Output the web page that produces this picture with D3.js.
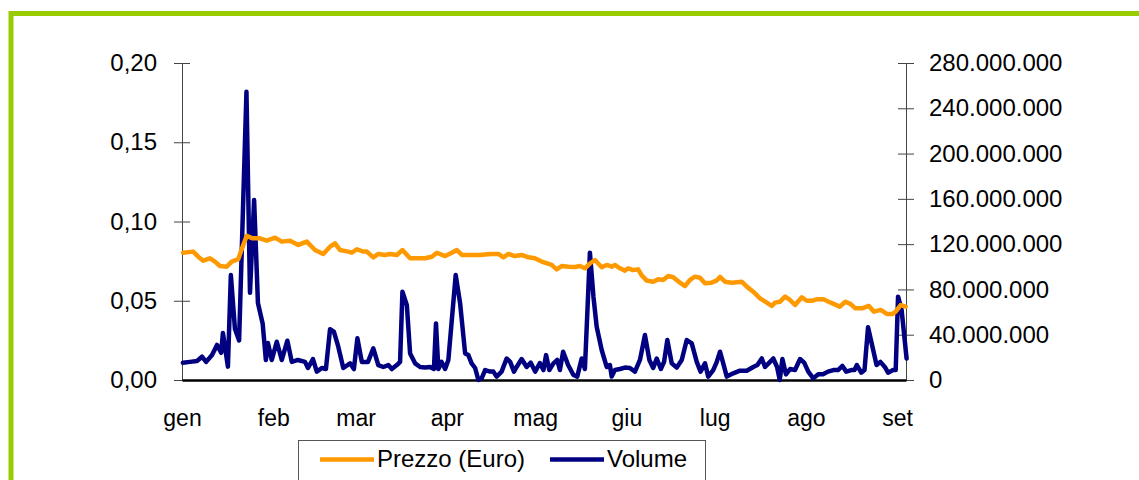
<!DOCTYPE html>
<html><head><meta charset="utf-8">
<script src="https://cdn.jsdelivr.net/npm/d3@7"></script>
<style>body{margin:0;background:#fff;}svg{display:block;font-family:"Liberation Sans",Arial,sans-serif;}</style>
</head><body><svg id="c" width="1139" height="480"></svg>
<script>
// ---- data ----
const monthLabels = ["gen","feb","mar","apr","mag","giu","lug","ago","set"];
const priceTicks = [0, 0.05, 0.10, 0.15, 0.20];
const volumeTicks = [0, 40e6, 80e6, 120e6, 160e6, 200e6, 240e6, 280e6];
// day offset from 1 January
const priceDay = [0.4,3.8,5.5,7.2,9.5,11.2,12.9,15.2,16.9,19.1,20.8,22,24,26.5,28.8,31.6,33.9,36.7,39.5,42.4,45.2,48,50.3,52,53.7,56.5,57.7,59.4,61.6,62.8,65,66.7,69,70.7,73,74.9,77.5,79.8,82.6,84.9,86.6,89.4,91.7,93.4,95.1,97.9,101.3,104.7,107.5,109.2,110.9,113.1,115.4,117.7,119.9,122.2,123.3,125.6,127.3,129,131.3,133.6,135.2,136.9,138.6,140.3,142.6,144.3,146,147.1,148.8,150.5,151.6,153.3,155,156.1,157.9,160.1,161.8,163.5,165.2,166.9,169.2,170.9,172.6,174.3,176,177.7,179.9,181.6,182.8,184.5,186.8,190.2,191.9,194.1,196.4,198.7,200.4,201.5,203.2,204.9,206.6,208.3,210.6,212.3,214,215.7,218,219.7,221.4,223.5,225.4,227.1,228.8,231.1,233.4,235.1,237.4,239.6,241.3,242.5,244.2,245.9];
const priceEur = [0.0803,0.081,0.0778,0.0753,0.0768,0.0747,0.0719,0.0715,0.0747,0.0762,0.0852,0.0909,0.0894,0.0894,0.0879,0.0898,0.0873,0.0879,0.0852,0.0873,0.082,0.0795,0.0841,0.0862,0.082,0.081,0.0803,0.0825,0.081,0.081,0.0774,0.0795,0.0789,0.0795,0.0789,0.082,0.0768,0.0768,0.0768,0.0778,0.0803,0.0782,0.0803,0.082,0.0789,0.0789,0.0789,0.0795,0.0795,0.0774,0.0795,0.0782,0.0789,0.0774,0.0768,0.0747,0.074,0.0726,0.0698,0.0719,0.0715,0.0713,0.0719,0.0705,0.0735,0.0757,0.0711,0.0726,0.0715,0.0726,0.0705,0.069,0.0705,0.0694,0.0698,0.0663,0.0627,0.062,0.0635,0.0631,0.0656,0.0648,0.0614,0.0593,0.0631,0.0652,0.0645,0.061,0.0614,0.0627,0.065,0.062,0.0614,0.062,0.0589,0.0557,0.0515,0.0488,0.0467,0.0488,0.0494,0.0526,0.0505,0.0473,0.0522,0.05,0.05,0.0509,0.0509,0.0494,0.048,0.0463,0.0494,0.048,0.0452,0.0452,0.0467,0.0431,0.0442,0.0416,0.0416,0.0431,0.0473,0.0463];
const volumeDay = [0.3,2.7,5.1,6.8,8.2,10.2,11.9,13.3,13.9,15.6,16.6,18,19.4,21.9,23.1,24.5,25.8,27.4,28.5,29.2,30.5,32.2,33.9,35.8,37.3,39.4,41.8,42.8,44.5,45.8,47.5,48.9,50.3,51.6,53.1,54.8,57.1,58.4,59.6,61.1,63.2,65,66.7,68.4,70.1,71.3,73,74.1,74.9,76.4,77.5,79.2,80.9,82.6,84.3,85.6,86.3,87.1,88.2,89.4,90.5,93,94.5,96.2,97.3,98.4,99.6,100.7,101.8,103,104.7,105.8,106.9,108.6,110.3,111.5,112.8,113.7,115.4,117.1,118.5,120,121.6,122.8,123.7,124.8,126.2,127.5,128.4,129.5,131.2,133,134.3,135.8,136.9,138.6,139.8,140.9,142.6,144.3,145.4,146,147.1,148.8,150.5,152.2,153.9,155.6,157.3,158.8,160.1,161.3,162.7,163.8,164.9,166.4,168.1,169.8,171.5,173.2,174.9,176.2,177.7,178.8,180.5,181.7,182.8,183.9,185.1,187.3,189.6,191.9,194.1,195.5,197,198.1,199.8,200.9,202.2,203.1,204,205.2,206.6,208.3,210,211.4,212.8,214.5,216.2,217.8,219.5,221.3,222.9,224.4,225.7,227.4,228.5,229.3,230.8,231.9,233.1,234.6,236,237.3,238.8,239.9,241.6,242.5,243.3,244.5,246.2];
const volumeMln = [15.3,16,16.8,20.6,16,22,31,24,41.5,11.8,92.7,45,35,254.6,77,159,68,50,17.7,32.7,17.7,33.8,17.7,34.7,16,17.7,16,10.6,18.5,7.4,10.6,9.7,44.8,42.7,29.4,10.6,14.7,9.7,36.8,16,16,28,13.2,11.5,13.2,9.7,13.2,16,78,66,23.5,14.7,11.5,11,11.5,9.7,50,9.7,16,9.7,17.7,92.7,67.7,23.5,22,14.7,10.6,0,1.5,8.8,7.4,7.4,3,7.4,19,16,7.4,11.5,18.5,11.5,15.3,7.4,15,8.8,22,8.8,14.7,17.7,8.8,25,13.2,4.4,3,19,9.7,112.5,73.6,47,26.5,11.5,13.2,3,8.8,9.7,11,10.6,7.4,17.7,39.7,17.7,10.6,19,9.7,16,35.3,14.7,11,17.7,35.3,32.4,16,7.4,14.7,3,8.8,16,25,14.7,3,5.9,8.2,8.2,11.5,13.2,19,11.5,16,19,11.5,0,18.5,5,9.7,8.8,18.5,15.3,7.4,1.5,5,5,7.4,8.8,8.8,12.4,7.4,8.8,8.8,13.2,6.5,8.8,46.5,29.4,13.2,16,11.5,6.5,8.8,8.8,73.6,62,19];

// ---- helpers ----
const base = new Date(2010, 0, 1);
const toDate = d => new Date(base.getTime() + d * 864e5);
const loc = d3.formatLocale({decimal: ",", thousands: ".", grouping: [3], currency: ["€", ""]});
const fmtPrice = loc.format(".2f");
const fmtVol = loc.format(",d");

const price = priceDay.map((d, i) => ({date: toDate(d), v: priceEur[i]}));
const volume = volumeDay.map((d, i) => ({date: toDate(d), v: volumeMln[i] * 1e6}));

const svg = d3.select("#c");
const L = 182, R = 906, T = 63, B = 380;

// green frame
svg.append("rect").attr("x", 11).attr("y", 13.5).attr("width", 1200).attr("height", 600)
  .attr("fill", "none").attr("stroke", "#99cc00").attr("stroke-width", 5);

const x = d3.scaleTime().domain([toDate(0), toDate(246)]).range([L, R]);
const yP = d3.scaleLinear().domain([0, 0.2]).range([B, T]);
const yV = d3.scaleLinear().domain([0, 280e6]).range([B, T]);

// left axis
const gl = svg.append("g").attr("transform", `translate(${L},0)`)
  .call(d3.axisLeft(yP).tickValues(priceTicks).tickFormat(fmtPrice).tickSizeInner(8).tickSizeOuter(0).tickPadding(17));
gl.select(".domain").attr("stroke", "#444");
gl.selectAll(".tick line").attr("x1", 8).attr("x2", -8).attr("stroke", "#444");
gl.selectAll(".tick text").attr("font-size", 24).attr("fill", "#000").attr("font-family", "Liberation Sans, Arial, sans-serif");

// right axis
const gr = svg.append("g").attr("transform", `translate(${R},0)`)
  .call(d3.axisRight(yV).tickValues(volumeTicks).tickFormat(fmtVol).tickSizeInner(8).tickSizeOuter(0).tickPadding(15));
gr.select(".domain").attr("stroke", "#444");
gr.selectAll(".tick line").attr("x1", -8).attr("x2", 8).attr("stroke", "#444");
gr.selectAll(".tick text").attr("font-size", 24).attr("fill", "#000").attr("font-family", "Liberation Sans, Arial, sans-serif");

// bottom axis
const months = monthLabels.map((m, i) => new Date(2010, i, 1));
const gb = svg.append("g").attr("transform", `translate(0,${B})`)
  .call(d3.axisBottom(x).tickValues(months).tickFormat((d, i) => monthLabels[i]).tickSize(0).tickPadding(30));
gb.select(".domain").attr("stroke", "#000").attr("stroke-width", 2.5);
gb.selectAll(".tick text").attr("font-size", 23).attr("fill", "#000").attr("font-family", "Liberation Sans, Arial, sans-serif");

// lines
const lineV = d3.line().x(d => x(d.date)).y(d => yV(d.v));
const lineP = d3.line().x(d => x(d.date)).y(d => yP(d.v));
svg.append("path").datum(volume).attr("d", lineV).attr("fill", "none")
  .attr("stroke", "#000080").attr("stroke-width", 4.5).attr("stroke-linejoin", "round").attr("stroke-linecap", "round");
svg.append("path").datum(price).attr("d", lineP).attr("fill", "none")
  .attr("stroke", "#ff9900").attr("stroke-width", 4.5).attr("stroke-linejoin", "round").attr("stroke-linecap", "round");

// legend
const lg = svg.append("g");
lg.append("rect").attr("x", 298.5).attr("y", 440.5).attr("width", 407).attr("height", 60)
  .attr("fill", "#fff").attr("stroke", "#555").attr("stroke-width", 1);
const items = [{name: "Prezzo (Euro)", color: "#ff9900", x0: 320}, {name: "Volume", color: "#000080", x0: 550}];
items.forEach(it => {
  lg.append("line").attr("x1", it.x0).attr("x2", it.x0 + 54).attr("y1", 459.5).attr("y2", 459.5)
    .attr("stroke", it.color).attr("stroke-width", 4.5);
  lg.append("text").attr("x", it.x0 + 57).attr("y", 467).attr("font-size", 24).attr("fill", "#000").text(it.name);
});
</script></body></html>
